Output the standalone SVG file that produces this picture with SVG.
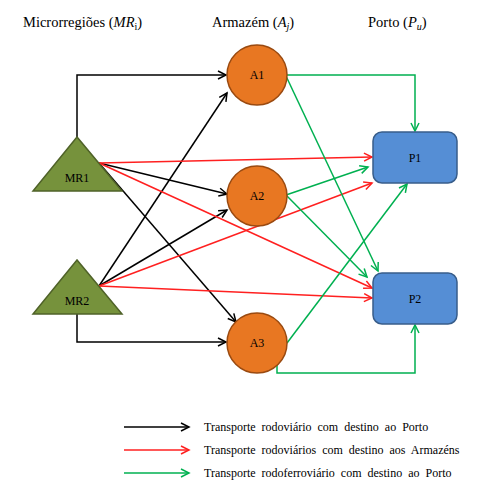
<svg xmlns="http://www.w3.org/2000/svg" width="501" height="495" viewBox="0 0 501 495">
<style>
.t{font-family:"Liberation Serif","Times New Roman",serif;fill:#000}
.h{font-size:14.5px}
.n{font-size:12px;text-anchor:middle}
.lg{font-size:12px;word-spacing:3px}
.k{stroke:#000;fill:none;stroke-width:1.5}
.r{stroke:#FF2020;fill:none;stroke-width:1.5}
.g{stroke:#00B050;fill:none;stroke-width:1.5}
.circ{fill:#E87722;stroke:#9A4A10;stroke-width:1.5}
.tri{fill:#76923C;stroke:#4F6228;stroke-width:1.5}
.box{fill:#558ED5;stroke:#385D8A;stroke-width:1.5}
</style>
<defs>
<marker id="ak" markerUnits="userSpaceOnUse" markerWidth="12" markerHeight="12" refX="9" refY="5" orient="auto"><path d="M1,1 L9,5 L1,9" fill="none" stroke="#000" stroke-width="1.5"/></marker>
<marker id="ar" markerUnits="userSpaceOnUse" markerWidth="12" markerHeight="12" refX="9" refY="5" orient="auto"><path d="M1,1 L9,5 L1,9" fill="none" stroke="#FF2020" stroke-width="1.5"/></marker>
<marker id="ag" markerUnits="userSpaceOnUse" markerWidth="12" markerHeight="12" refX="9" refY="5" orient="auto"><path d="M1,1 L9,5 L1,9" fill="none" stroke="#00B050" stroke-width="1.5"/></marker>
</defs>
<rect width="501" height="495" fill="#fff"/>
<g id="headers">
<text class="t h" x="23" y="27">Microrregiões (<tspan font-style="italic">MR</tspan><tspan font-size="10" dy="3">i</tspan><tspan dy="-3">)</tspan></text>
<text class="t h" x="212" y="27">Armazém (<tspan font-style="italic">A</tspan><tspan font-size="10" font-style="italic" dy="3">j</tspan><tspan dy="-3">)</tspan></text>
<text class="t h" x="368" y="27">Porto (<tspan font-style="italic">P</tspan><tspan font-size="10" font-style="italic" dy="3">u</tspan><tspan dy="-3">)</tspan></text>
</g>
<g id="connectors">
<polyline class="k" points="77,137 77,75 226,75" marker-end="url(#ak)"/>
<line class="k" x1="99" y1="286" x2="227" y2="93" marker-end="url(#ak)"/>
<line class="k" x1="99" y1="163" x2="227" y2="194" marker-end="url(#ak)"/>
<line class="k" x1="99" y1="286" x2="227" y2="210" marker-end="url(#ak)"/>
<line class="k" x1="99" y1="163" x2="236" y2="322" marker-end="url(#ak)"/>
<polyline class="k" points="77,314 77,342 226,342" marker-end="url(#ak)"/>
<line class="r" x1="99" y1="163" x2="372" y2="157" marker-end="url(#ar)"/>
<line class="r" x1="99" y1="163" x2="372" y2="288" marker-end="url(#ar)"/>
<line class="r" x1="99" y1="286" x2="372" y2="183" marker-end="url(#ar)"/>
<line class="r" x1="99" y1="286" x2="372" y2="298" marker-end="url(#ar)"/>
<polyline class="g" points="287,75 415,75 415,131" marker-end="url(#ag)"/>
<line class="g" x1="286" y1="76" x2="378" y2="271" marker-end="url(#ag)"/>
<line class="g" x1="286" y1="195" x2="368" y2="167" marker-end="url(#ag)"/>
<line class="g" x1="286" y1="195" x2="367" y2="277" marker-end="url(#ag)"/>
<line class="g" x1="287" y1="343" x2="407" y2="184" marker-end="url(#ag)"/>
<polyline class="g" points="277,365 277,373 415,373 415,325" marker-end="url(#ag)"/>
</g>
<g id="MR1"><polygon class="tri" points="77,137 33,191 122,191"/><text class="t n" x="77" y="182">MR1</text></g>
<g id="MR2"><polygon class="tri" points="77,260 33,314 122,314"/><text class="t n" x="77" y="305">MR2</text></g>
<g id="A1"><circle class="circ" cx="257" cy="75" r="30"/><text class="t n" x="257" y="79">A1</text></g>
<g id="A2"><circle class="circ" cx="257" cy="196" r="30"/><text class="t n" x="257" y="200">A2</text></g>
<g id="A3"><circle class="circ" cx="257" cy="343" r="30"/><text class="t n" x="257" y="347">A3</text></g>
<g id="P1"><rect class="box" x="373" y="132" width="84" height="51" rx="9"/><text class="t n" x="415" y="162">P1</text></g>
<g id="P2"><rect class="box" x="373" y="273" width="84" height="51" rx="9"/><text class="t n" x="415" y="303">P2</text></g>
<g id="legend">
<line class="k" x1="124" y1="427" x2="189" y2="427" marker-end="url(#ak)"/>
<line class="r" x1="124" y1="450" x2="189" y2="450" marker-end="url(#ar)"/>
<line class="g" x1="124" y1="473" x2="189" y2="473" marker-end="url(#ag)"/>
<text class="t lg" x="204" y="431">Transporte rodoviário com destino ao Porto</text>
<text class="t lg" x="204" y="454">Transporte rodoviários com destino aos Armazéns</text>
<text class="t lg" x="204" y="477">Transporte rodoferroviário com destino ao Porto</text>
</g>
</svg>
